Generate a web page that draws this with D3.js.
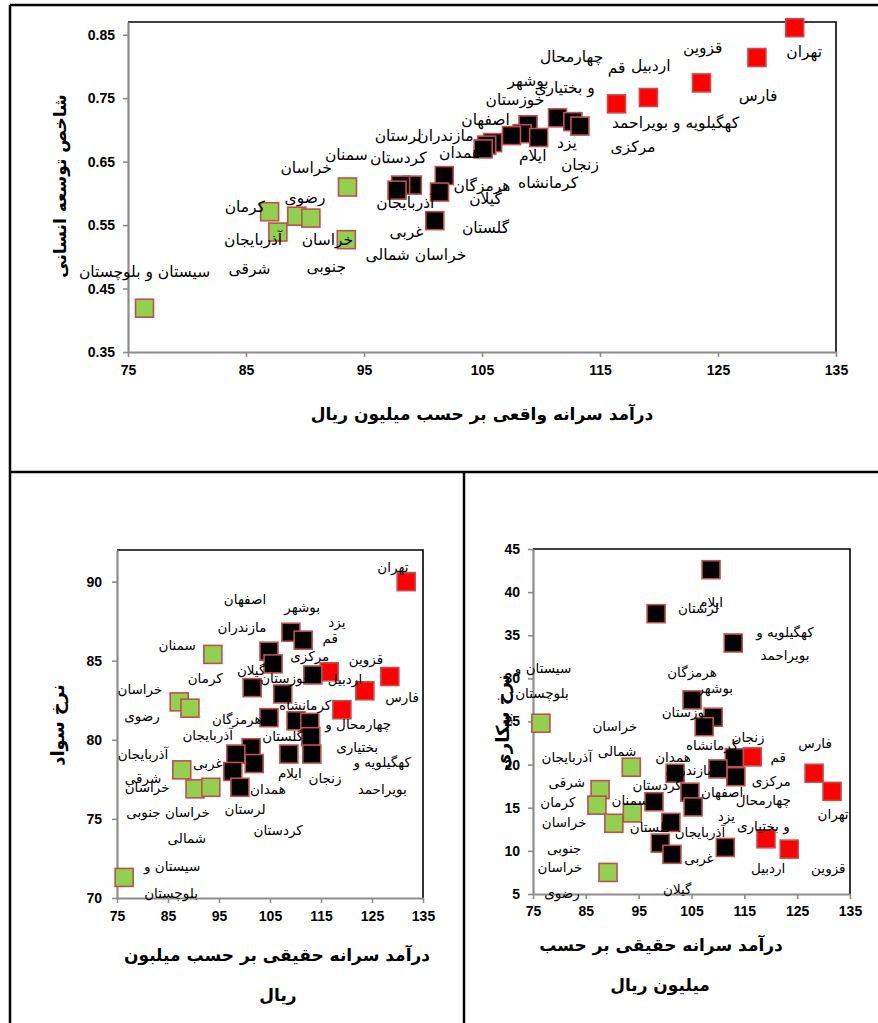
<!DOCTYPE html>
<html>
<head>
<meta charset="utf-8">
<script src="https://cdn.jsdelivr.net/npm/d3@7"></script>
<style>
  body { margin: 0; background: #fff; }
  svg { display: block; }
</style>
</head>
<body>
<svg id="chart" width="878" height="1023"></svg>
<script>
// Provincial indicators plotted against real per-capita income (million rials).
// Point groups: high = high-income provinces, mid = middle, low = low-income.

const incomeTicks = [75, 85, 95, 105, 115, 125, 135];
const hdiTicks = [0.35, 0.45, 0.55, 0.65, 0.75, 0.85];
const literacyTicks = [70, 75, 80, 85, 90];
const unemploymentTicks = [5, 10, 15, 20, 25, 30, 35, 40, 45];

// [income, HDI, group]
const hdiPoints = [
  [131.5, 0.861, "high"], [128.3, 0.814, "high"], [123.6, 0.774, "high"],
  [119.1, 0.751, "high"], [116.4, 0.741, "high"],
  [111.4, 0.719, "mid"], [112.7, 0.713, "mid"], [113.3, 0.706, "mid"],
  [108.9, 0.708, "mid"], [108.4, 0.694, "mid"], [107.5, 0.691, "mid"],
  [109.8, 0.688, "mid"], [105.9, 0.680, "mid"], [105.4, 0.676, "mid"],
  [105.1, 0.670, "mid"], [101.8, 0.628, "mid"], [101.4, 0.602, "mid"],
  [99.1, 0.613, "mid"], [98.1, 0.613, "mid"], [97.8, 0.605, "mid"],
  [101.0, 0.557, "mid"],
  [76.4, 0.419, "low"], [87.0, 0.571, "low"], [87.7, 0.539, "low"],
  [89.3, 0.564, "low"], [90.5, 0.561, "low"], [93.5, 0.527, "low"],
  [93.6, 0.610, "low"]
];

// [text, income, HDI] anchor of each province name
const hdiLabels = [
  ["تهران", 132.3, 0.823], ["قزوین", 123.7, 0.829], ["اردبیل", 119.3, 0.801],
  ["قم", 116.4, 0.798], ["چهارمحال", 112.6, 0.815], ["و بختیاری", 112.0, 0.766],
  ["بوشهر", 108.9, 0.778], ["خوزستان", 107.8, 0.747], ["اصفهان", 105.3, 0.716],
  ["مازندران", 101.9, 0.691], ["لرستان", 97.9, 0.691], ["همدان", 103.1, 0.665],
  ["کردستان", 97.9, 0.656], ["سمنان", 93.5, 0.661], ["خراسان", 90.1, 0.640],
  ["رضوی", 90.0, 0.594], ["کرمان", 84.9, 0.579], ["آذربایجان", 85.6, 0.527],
  ["شرقی", 85.3, 0.482], ["خراسان", 91.9, 0.527], ["جنوبی", 91.8, 0.484],
  ["سیستان و بلوچستان", 76.4, 0.476], ["غربی", 98.6, 0.539],
  ["خراسان شمالی", 99.4, 0.503], ["آذربایجان", 98.5, 0.585],
  ["هرمزگان", 105.0, 0.612], ["گیلان", 105.3, 0.592], ["گلستان", 105.3, 0.546],
  ["ایلام", 109.3, 0.659], ["یزد", 112.2, 0.680], ["زنجان", 113.3, 0.645],
  ["کرمانشاه", 110.6, 0.617], ["کهگیلویه و بویراحمد", 121.4, 0.711],
  ["مرکزی", 117.8, 0.673], ["فارس", 128.4, 0.754]
];

// [income, literacy rate, group]
const literacyPoints = [
  [131.7, 90.0, "high"], [128.5, 84.0, "high"], [123.6, 83.1, "high"],
  [119.1, 81.9, "high"], [116.6, 84.3, "high"],
  [109.1, 86.8, "mid"], [111.5, 86.3, "mid"], [104.8, 85.6, "mid"],
  [105.6, 84.8, "mid"], [113.4, 84.1, "mid"], [101.5, 83.3, "mid"],
  [107.5, 82.9, "mid"], [104.8, 81.4, "mid"], [110.1, 81.2, "mid"],
  [112.8, 81.1, "mid"], [113.0, 80.2, "mid"], [113.2, 79.1, "mid"],
  [108.7, 79.1, "mid"], [101.3, 79.5, "mid"], [98.3, 79.1, "mid"],
  [101.9, 78.5, "mid"], [97.7, 78.0, "mid"], [99.1, 77.0, "mid"],
  [93.8, 85.4, "low"], [87.2, 82.4, "low"], [89.3, 82.0, "low"],
  [87.7, 78.1, "low"], [90.3, 76.9, "low"], [93.4, 77.0, "low"],
  [76.4, 71.3, "low"]
];

const literacyLabels = [
  ["تهران", 129.1, 90.9], ["اصفهان", 100.1, 88.9], ["بوشهر", 111.3, 88.4],
  ["مازندران", 99.5, 87.1], ["یزد", 118.1, 87.4], ["قم", 116.8, 86.4],
  ["مرکزی", 112.8, 85.3], ["قزوین", 123.8, 85.1], ["اردبیل", 119.7, 83.8],
  ["خوزستان", 108.1, 83.9], ["گیلان", 101.3, 84.4], ["فارس", 130.9, 82.7],
  ["کرمانشاه", 111.9, 82.2], ["هرمزگان", 98.5, 81.3], ["چهارمحال و", 122.3, 81.0],
  ["گلستان", 107.5, 80.2], ["آذربایجان", 92.8, 80.3], ["بختیاری", 122.1, 79.5],
  ["کهگیلویه و", 127.0, 78.6], ["زنجان", 115.8, 77.6], ["ایلام", 108.9, 77.9],
  ["همدان", 104.6, 76.9], ["بویراحمد", 127.0, 76.9], ["لرستان", 100.1, 75.6],
  ["کردستان", 106.6, 74.3], ["سمنان", 86.8, 86.0], ["کرمان", 92.3, 83.9],
  ["خراسان", 79.5, 83.2], ["رضوی", 79.9, 81.5], ["آذربایجان", 80.1, 79.1],
  ["شرقی", 80.1, 77.6], ["خراسان", 80.9, 77.0], ["غربی", 92.8, 78.5],
  ["خراسان جنوبی", 85.0, 75.4], ["شمالی", 88.7, 73.8], ["سیستان و", 85.8, 72.0],
  ["بلوچستان", 85.6, 70.3]
];

// [income, unemployment rate, group]
const unemploymentPoints = [
  [116.5, 20.9, "high"], [128.2, 19.0, "high"], [131.6, 16.9, "high"],
  [119.1, 11.4, "high"], [123.5, 10.2, "high"],
  [108.7, 42.6, "mid"], [98.3, 37.5, "mid"], [112.9, 34.1, "mid"],
  [105.1, 27.5, "mid"], [109.1, 25.5, "mid"], [107.4, 24.4, "mid"],
  [113.1, 20.8, "mid"], [113.4, 18.6, "mid"], [110.0, 19.5, "mid"],
  [101.9, 19.0, "mid"], [104.7, 16.8, "mid"], [105.3, 15.1, "mid"],
  [97.9, 15.7, "mid"], [101.1, 13.3, "mid"], [99.1, 10.9, "mid"],
  [101.3, 9.6, "mid"], [111.4, 10.4, "mid"],
  [76.5, 24.8, "low"], [93.6, 19.7, "low"], [87.7, 17.1, "low"],
  [87.1, 15.3, "low"], [93.8, 14.4, "low"], [90.3, 13.2, "low"],
  [89.2, 7.5, "low"]
];

const unemploymentLabels = [
  ["لرستان", 106.3, 38.1], ["ایلام", 108.7, 38.8], ["کهگیلویه و", 122.7, 35.4],
  ["بویراحمد", 122.7, 32.7], ["هرمزگان", 105.1, 30.7], ["بوشهر", 109.5, 28.9],
  ["خوزستان", 104.2, 26.1], ["زنجان", 115.7, 23.2], ["کرمانشاه", 108.9, 22.2],
  ["فارس", 128.4, 22.5], ["قم", 121.4, 20.8], ["همدان", 101.5, 20.9],
  ["مازندران", 104.7, 19.4], ["مرکزی", 120.1, 18.1], ["اصفهان", 110.8, 16.8],
  ["چهارمحال", 118.6, 15.9], ["کردستان", 98.5, 17.6], ["سمنان", 93.4, 15.9],
  ["یزد", 111.6, 14.0], ["و بختیاری", 118.6, 12.9], ["آذربایجان", 106.6, 12.1],
  ["گلستان", 97.2, 12.7], ["غربی", 106.4, 9.2], ["اردبیل", 119.5, 8.0],
  ["قزوین", 130.9, 8.0], ["تهران", 131.8, 14.2], ["گیلان", 102.3, 5.5],
  ["سیستان و", 76.9, 31.2], ["بلوچستان", 76.7, 28.3], ["خراسان", 90.5, 24.4],
  ["شمالی", 90.9, 21.5], ["آذربایجان", 81.4, 20.8], ["شرقی", 81.4, 17.9],
  ["کرمان", 79.7, 15.6], ["خراسان", 80.9, 13.3], ["جنوبی", 80.9, 10.3],
  ["خراسان", 80.1, 8.1], ["رضوی", 80.5, 5.1]
];

const groupFill = { high: "#ff0000", mid: "#000000", low: "#92d050" };
const markerStroke = "#c0504d";
const axisGray = "#8c8c8c";
const faFont = "'DejaVu Sans', 'Noto Sans', sans-serif";
const numFont = "'Liberation Sans', Arial, sans-serif";

const svg = d3.select("#chart");
svg.append("rect").attr("width", 878).attr("height", 1023).attr("fill", "#fff");

// Outer panel frames
const frame = svg.append("g").attr("stroke", "#000").attr("stroke-width", 2.5).attr("fill", "none");
frame.append("path").attr("d", "M10,5H878");
frame.append("path").attr("d", "M10,5V1023");
frame.append("path").attr("d", "M10,472H878");
frame.append("path").attr("d", "M464,472V1023");

function drawPanel(p) {
  const x = d3.scaleLinear().domain(p.xDomain).range([p.left, p.right]);
  const y = d3.scaleLinear().domain(p.yDomain).range([p.bottom, p.top]);
  const g = svg.append("g");

  // plot-area border (top and right)
  g.append("path")
    .attr("d", `M${p.left},${p.top}H${p.right}V${p.bottom}`)
    .attr("fill", "none").attr("stroke", "#000").attr("stroke-width", 1.6);

  const xAxis = d3.axisBottom(x).tickValues(p.xTicks).tickSize(5).tickSizeOuter(0)
    .tickPadding(p.xPad).tickFormat(d3.format("d"));
  const yAxis = d3.axisLeft(y).tickValues(p.yTicks).tickSize(5).tickSizeOuter(0)
    .tickPadding(p.yPad).tickFormat(p.yFormat);

  [[xAxis, `translate(0,${p.bottom})`], [yAxis, `translate(${p.left},0)`]].forEach(([ax, tr]) => {
    const a = g.append("g").attr("transform", tr).call(ax);
    a.select(".domain").attr("stroke", axisGray).attr("stroke-width", 2.2);
    a.selectAll(".tick line").attr("stroke", axisGray).attr("stroke-width", 1.6);
    a.selectAll(".tick text").attr("fill", "#000").attr("font-family", numFont)
      .attr("font-weight", "bold").attr("font-size", p.tickSize);
  });

  // markers
  const s = p.marker;
  g.append("g").selectAll("rect").data(p.points).join("rect")
    .attr("x", d => x(d[0]) - s / 2)
    .attr("y", d => y(d[1]) - s / 2)
    .attr("width", s).attr("height", s)
    .attr("fill", d => groupFill[d[2]])
    .attr("stroke", markerStroke).attr("stroke-width", 1.6);

  // province names
  g.append("g").selectAll("text").data(p.labels).join("text")
    .attr("x", d => x(d[1]))
    .attr("y", d => y(d[2]))
    .attr("dy", "0.35em")
    .attr("text-anchor", "middle")
    .attr("font-family", faFont)
    .attr("font-size", p.labelSize)
    .attr("fill", "#000")
    .text(d => d[0]);

  // axis titles
  p.xTitle.forEach(t => {
    g.append("text").attr("x", t[1]).attr("y", t[2]).attr("dy", "0.35em")
      .attr("text-anchor", "middle").attr("font-family", faFont)
      .attr("font-weight", "bold").attr("font-size", p.titleSize).text(t[0]);
  });
  g.append("text")
    .attr("transform", `translate(${p.yTitle[1]},${p.yTitle[2]}) rotate(-90)`)
    .attr("dy", "0.35em").attr("text-anchor", "middle").attr("font-family", faFont)
    .attr("font-weight", "bold").attr("font-size", p.yTitleSize).text(p.yTitle[0]);
}

// Human development index vs income
drawPanel({
  left: 128, right: 836, top: 22, bottom: 352,
  xDomain: [75, 135], yDomain: [0.35, 0.87],
  xTicks: incomeTicks, yTicks: hdiTicks, yFormat: d3.format(".2f"),
  xPad: 8, yPad: 8, tickSize: 14,
  points: hdiPoints, labels: hdiLabels, marker: 18, labelSize: 15.5,
  xTitle: [["درآمد سرانه واقعی بر حسب میلیون ریال", 482, 414]],
  yTitle: ["شاخص توسعه انسانی", 60, 186],
  titleSize: 17, yTitleSize: 17
});

// Literacy rate vs income
drawPanel({
  left: 117, right: 423, top: 550, bottom: 898,
  xDomain: [75, 135], yDomain: [70, 92],
  xTicks: incomeTicks, yTicks: literacyTicks, yFormat: d3.format("d"),
  xPad: 8, yPad: 10, tickSize: 14,
  points: literacyPoints, labels: literacyLabels, marker: 18, labelSize: 13.5,
  xTitle: [["درآمد سرانه حقیقی بر حسب میلبون", 277, 955], ["ریال", 278, 995]],
  yTitle: ["نرخ سواد", 58, 725],
  titleSize: 17, yTitleSize: 18
});

// Unemployment rate vs income
drawPanel({
  left: 533, right: 850, top: 549, bottom: 894,
  xDomain: [75, 135], yDomain: [5, 45],
  xTicks: incomeTicks, yTicks: unemploymentTicks, yFormat: d3.format("d"),
  xPad: 7, yPad: 8, tickSize: 14,
  points: unemploymentPoints, labels: unemploymentLabels, marker: 18, labelSize: 13.5,
  xTitle: [["درآمد سرانه حقیقی بر حسب", 661, 945], ["میلیون ریال", 660, 985]],
  yTitle: ["نرخ بیکاری", 503, 722],
  titleSize: 17, yTitleSize: 18
});
</script>
</body>
</html>
